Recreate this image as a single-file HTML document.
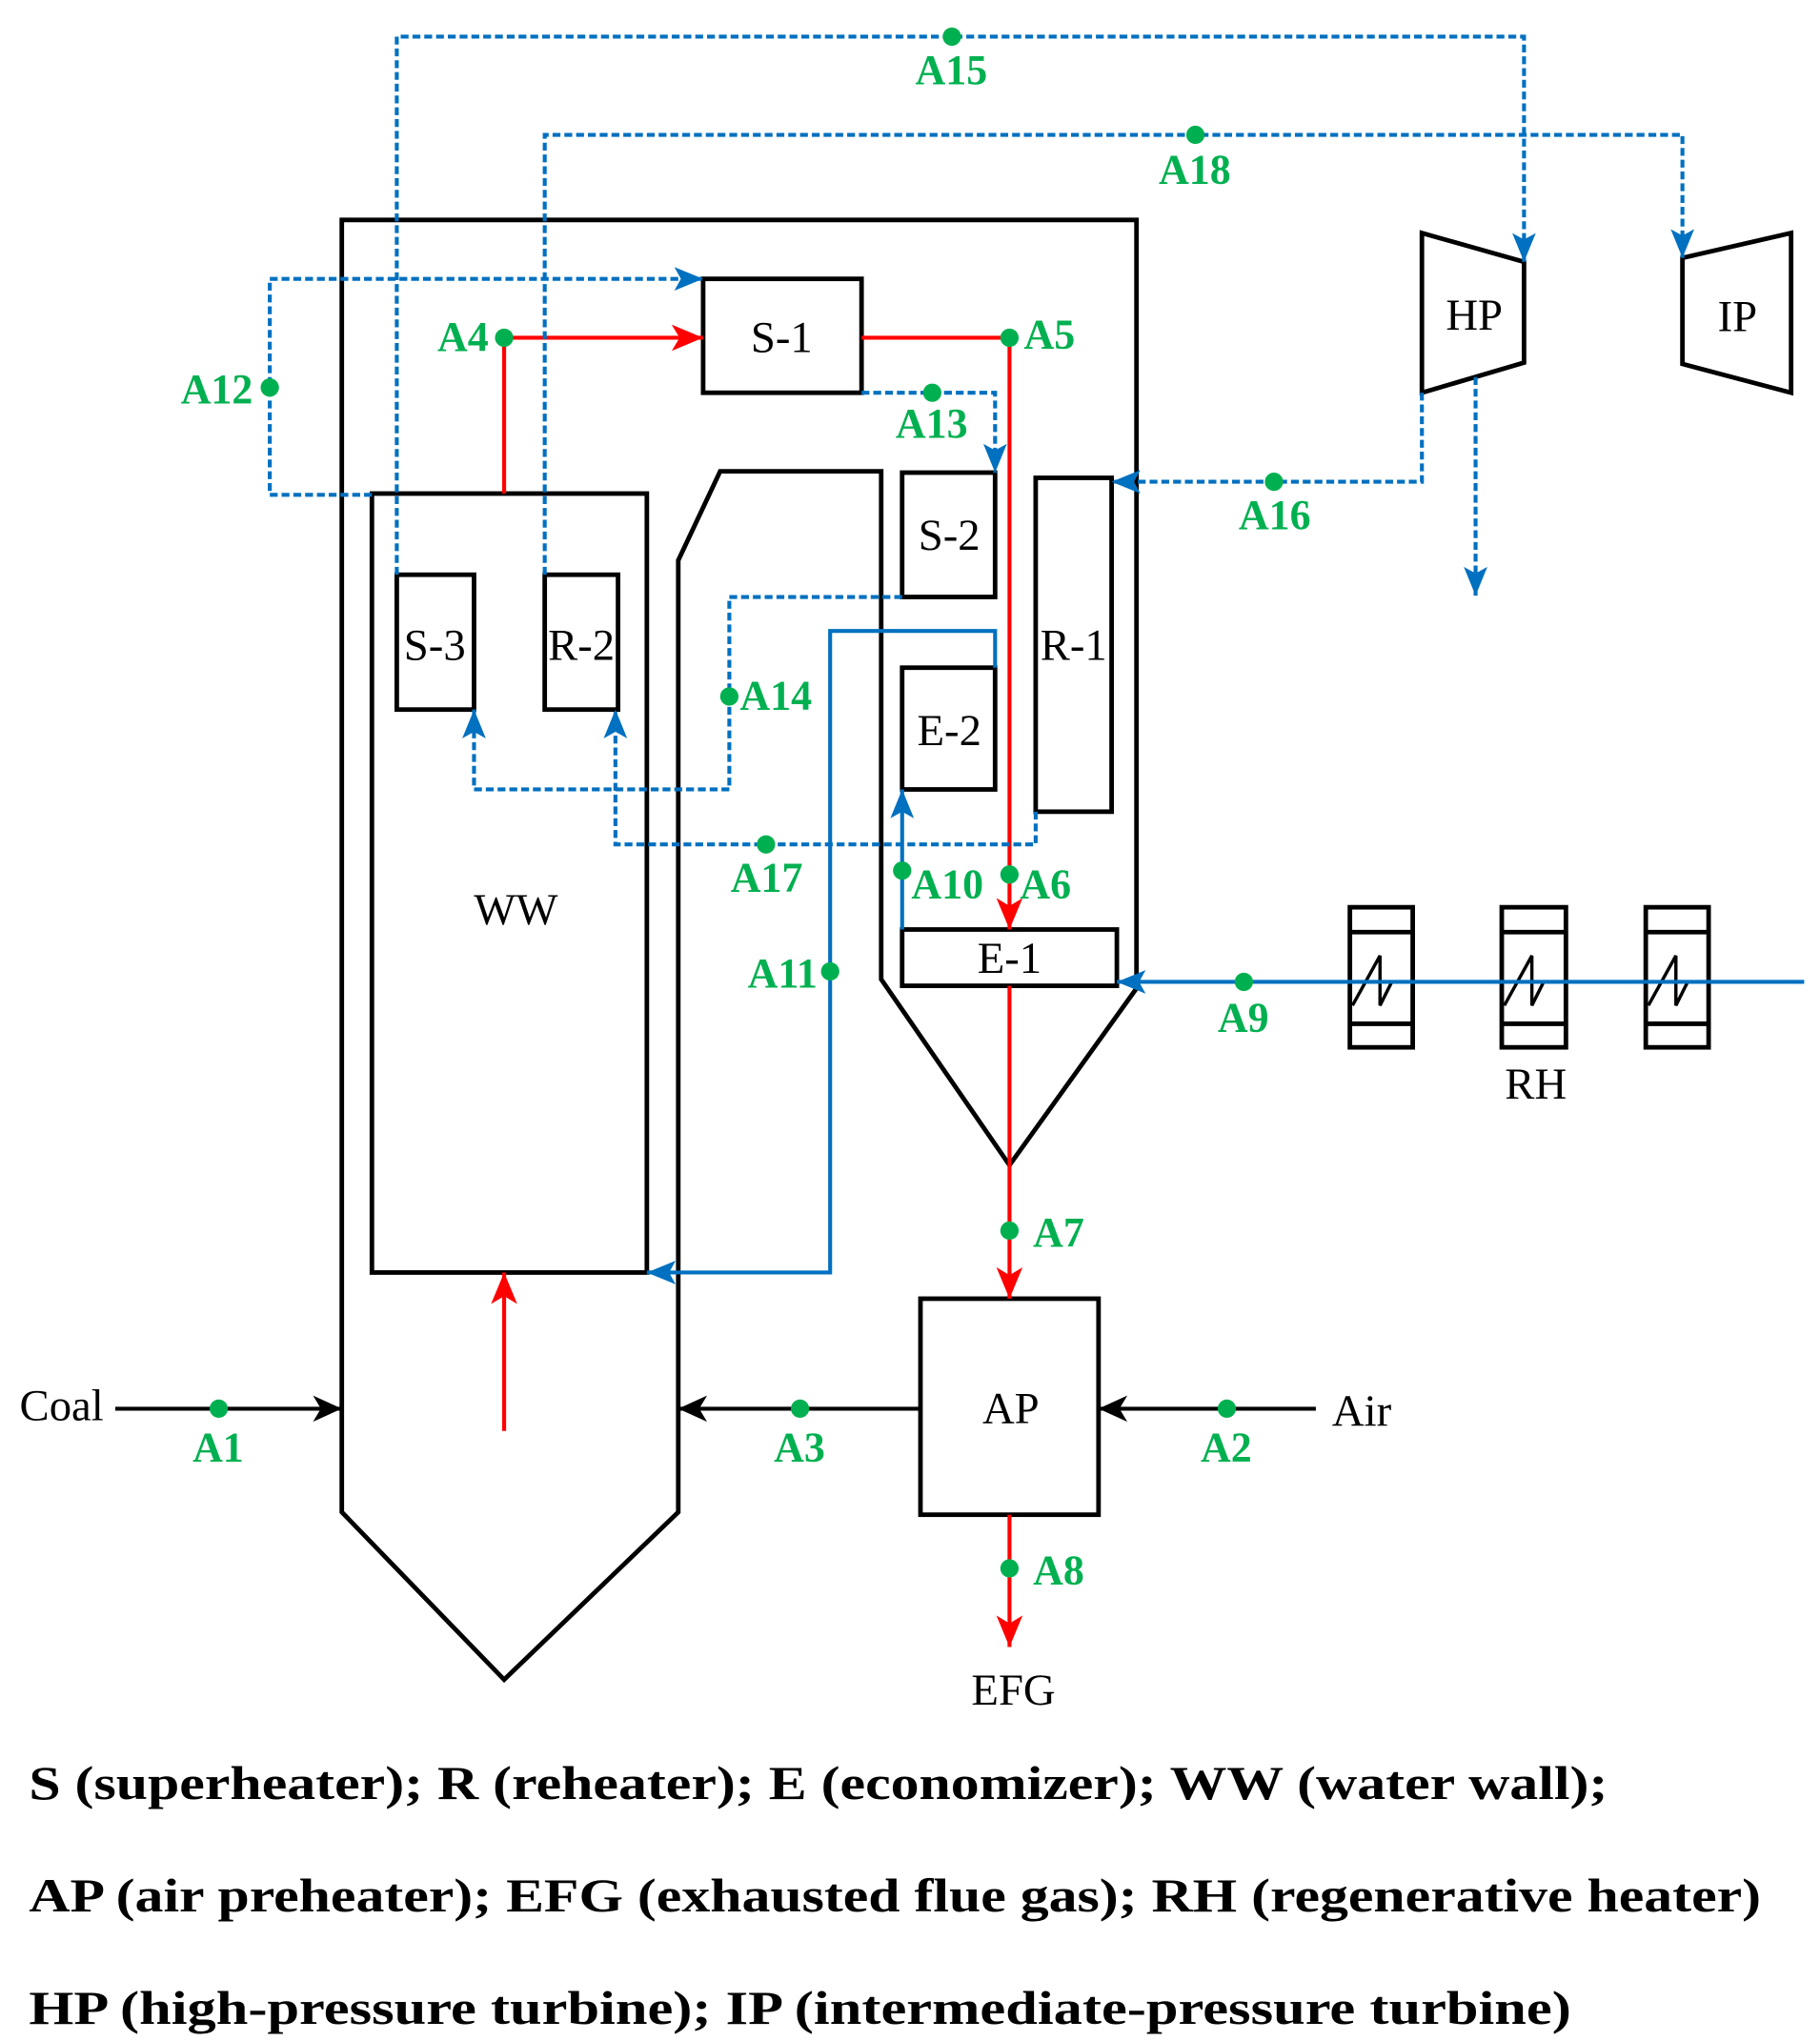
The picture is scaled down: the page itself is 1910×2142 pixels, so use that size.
<!DOCTYPE html>
<html><head><meta charset="utf-8"><style>html,body{margin:0;padding:0;background:#fff}svg{display:block}</style></head>
<body>
<svg width="1910" height="2142" viewBox="0 0 1390 1559" xmlns="http://www.w3.org/2000/svg">
<defs>
<marker id="ar" markerUnits="userSpaceOnUse" markerWidth="26" markerHeight="20" refX="24" refY="10" orient="auto"><path d="M0,0 L24,10 L0,20 L6,10 z" fill="#ff0000"/></marker>
<marker id="ab" markerUnits="userSpaceOnUse" markerWidth="24" markerHeight="18" refX="22" refY="9" orient="auto"><path d="M0,0 L22,9 L0,18 L5,9 z" fill="#0070c0"/></marker>
<marker id="ak" markerUnits="userSpaceOnUse" markerWidth="24" markerHeight="20" refX="22" refY="10" orient="auto"><path d="M0,0 L22,10 L0,20 L6,10 z" fill="#000"/></marker>
</defs>
<g fill="none" stroke="#000" stroke-width="3.5">
<path d="M261,1155 V168 H868 V755 L771,890 L673,748 V360 H550 L518,428 V1155 L385,1283 Z"/>
<rect x="284" y="377" width="210" height="595"/>
<rect x="303" y="439" width="59" height="103"/>
<rect x="416" y="439" width="56" height="103"/>
<rect x="537" y="213" width="121" height="87"/>
<rect x="689" y="361" width="71" height="95"/>
<rect x="689" y="510" width="71" height="93"/>
<rect x="791" y="365" width="58" height="255"/>
<rect x="689" y="710" width="164" height="43"/>
<rect x="703" y="992" width="136" height="165"/>
<path d="M1086,178 L1164,200 V277 L1086,300 Z"/>
<path d="M1285,197 L1368,178 V300 L1285,278 Z"/>
<rect x="1031" y="693" width="48" height="107"/><path d="M1031,712 H1079 M1031,782 H1079"/>
<rect x="1147" y="693" width="49" height="107"/><path d="M1147,712 H1196 M1147,782 H1196"/>
<rect x="1257" y="693" width="48" height="107"/><path d="M1257,712 H1305 M1257,782 H1305"/>
</g>
<g fill="none" stroke="#000" stroke-width="2.5">
<path d="M1033,768 L1054,730 V768 L1063,750 H1079"/>
<path d="M1149,768 L1170,730 V768 L1179,750 H1196"/>
<path d="M1259,768 L1280,730 V768 L1289,750 H1305"/>
</g>
<g stroke="#000" stroke-width="3">
<line x1="88" y1="1076" x2="261" y2="1076" marker-end="url(#ak)"/>
<line x1="703" y1="1076" x2="518" y2="1076" marker-end="url(#ak)"/>
<line x1="1005" y1="1076" x2="839" y2="1076" marker-end="url(#ak)"/>
</g>
<g fill="none" stroke="#ff0000" stroke-width="3">
<path d="M385,377 V258 H537" marker-end="url(#ar)"/>
<path d="M658,258 H771 V710" marker-end="url(#ar)"/>
<path d="M771,753 V992" marker-end="url(#ar)"/>
<path d="M771,1157 V1258" marker-end="url(#ar)"/>
<path d="M385,1093 V972" marker-end="url(#ar)"/>
</g>
<g fill="none" stroke="#0070c0" stroke-width="3">
<path d="M1378,750 H853" marker-end="url(#ab)"/>
<path d="M689,710 V603" marker-end="url(#ab)"/>
<path d="M760,510 V482 H634 V972 H494" marker-end="url(#ab)"/>
</g>
<g fill="none" stroke="#0070c0" stroke-width="3" stroke-dasharray="6,3">
<path d="M303,439 V28 H1164 V200" marker-end="url(#ab)"/>
<path d="M416,439 V103 H1285 V197" marker-end="url(#ab)"/>
<path d="M284,378 H206 V213 H537" marker-end="url(#ab)"/>
<path d="M658,300 H760 V361" marker-end="url(#ab)"/>
<path d="M1086,300 V368 H849" marker-end="url(#ab)"/>
<path d="M1127,288 V455" marker-end="url(#ab)"/>
<path d="M689,456 H557 V603 H362 V542" marker-end="url(#ab)"/>
<path d="M791,620 V645 H470 V542" marker-end="url(#ab)"/>
</g>
<g fill="#00b050">
<circle cx="727" cy="28" r="7"/><circle cx="913" cy="103" r="7"/><circle cx="206" cy="296" r="7"/>
<circle cx="385" cy="258" r="7"/><circle cx="771" cy="258" r="7"/><circle cx="712" cy="300" r="7"/>
<circle cx="973" cy="368" r="7"/><circle cx="557" cy="532" r="7"/><circle cx="585" cy="645" r="7"/>
<circle cx="689" cy="665" r="7"/><circle cx="771" cy="668" r="7"/><circle cx="634" cy="742" r="7"/>
<circle cx="950" cy="750" r="7"/><circle cx="771" cy="940" r="7"/><circle cx="167" cy="1076" r="7"/>
<circle cx="611" cy="1076" r="7"/><circle cx="937" cy="1076" r="7"/><circle cx="771" cy="1198" r="7"/>
</g>
<g fill="#00b050" font-family="Liberation Serif, serif" font-weight="bold" font-size="32">
<text x="699" y="64">A15</text><text x="885" y="140">A18</text><text x="138" y="308">A12</text>
<text x="334" y="268">A4</text><text x="782" y="266">A5</text><text x="684" y="334">A13</text>
<text x="946" y="404">A16</text><text x="565" y="542">A14</text><text x="558" y="681">A17</text>
<text x="696" y="686">A10</text><text x="779" y="686">A6</text><text x="571" y="754">A11</text>
<text x="930" y="788">A9</text><text x="789" y="952">A7</text><text x="147" y="1116">A1</text>
<text x="591" y="1116">A3</text><text x="917" y="1116">A2</text><text x="789" y="1210">A8</text>
</g>
<g fill="#000" font-family="Liberation Serif, serif" font-size="34" text-anchor="middle">
<text x="597" y="269">S-1</text>
<text x="725" y="420">S-2</text>
<text x="725" y="569">E-2</text>
<text x="820" y="504">R-1</text>
<text x="771" y="743">E-1</text>
<text x="332" y="504">S-3</text>
<text x="444" y="504">R-2</text>
<text x="394" y="706">WW</text>
<text x="772" y="1087">AP</text>
<text x="1126" y="252">HP</text>
<text x="1327" y="253">IP</text>
<text x="1173" y="839">RH</text>
<text x="774" y="1302">EFG</text>
<text x="47" y="1085">Coal</text>
<text x="1040" y="1089">Air</text>
</g>
<g fill="#000" font-family="Liberation Serif, serif" font-weight="bold" font-size="36">
<text x="22" y="1374" textLength="1206" lengthAdjust="spacingAndGlyphs">S (superheater);  R (reheater);  E (economizer);  WW (water wall);</text>
<text x="22" y="1460" textLength="1323" lengthAdjust="spacingAndGlyphs">AP (air preheater);  EFG (exhausted flue gas);  RH (regenerative heater)</text>
<text x="22" y="1546" textLength="1178" lengthAdjust="spacingAndGlyphs">HP (high-pressure turbine);  IP (intermediate-pressure turbine)</text>
</g>
</svg>
</body></html>
